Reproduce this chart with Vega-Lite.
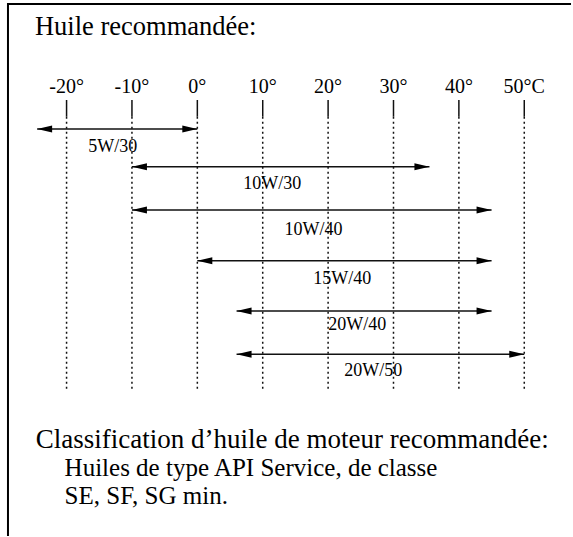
{
  "$schema": "https://vega.github.io/schema/vega-lite/v6.json",
  "width": 573,
  "height": 537,
  "autosize": {"type": "fit", "contains": "padding"},
  "padding": 0,
  "background": "white",
  "config": {"view": {"stroke": null}, "font": "Liberation Serif", "text": {"font": "Liberation Serif", "color": "#000"}},
  "datasets": {
    "frame": [
      {"t1": -28.96, "t2": 57.15, "v1": 4, "v2": 4},
      {"t1": -28.96, "t2": -28.96, "v1": 3, "v2": 536}
    ],
    "temps": [
      {"t": -20, "label": "-20°"},
      {"t": -10, "label": "-10°"},
      {"t": 0, "label": "0°"},
      {"t": 10, "label": "10°"},
      {"t": 20, "label": "20°"},
      {"t": 30, "label": "30°"},
      {"t": 40, "label": "40°"},
      {"t": 50, "label": "50°C"}
    ],
    "oils": [
      {"oil": "5W/30", "from": -24.5, "to": 0, "level": 129, "lx": -12.93, "ly": 151.7},
      {"oil": "10W/30", "from": -10, "to": 35.5, "level": 166.7, "lx": 11.44, "ly": 188.7},
      {"oil": "10W/40", "from": -10, "to": 45, "level": 210, "lx": 17.76, "ly": 235.3},
      {"oil": "15W/40", "from": 0, "to": 45, "level": 260.7, "lx": 22.18, "ly": 284.3},
      {"oil": "20W/40", "from": 6, "to": 45, "level": 311, "lx": 24.44, "ly": 330},
      {"oil": "20W/50", "from": 6, "to": 50, "level": 354.3, "lx": 26.92, "ly": 376}
    ],
    "heading": [
      {"t": -24.84, "v": 35, "text": "Huile recommandée:"}
    ],
    "subheading": [
      {"t": -24.7, "v": 448, "text": "Classification d’huile de moteur recommandée:"}
    ],
    "notes": [
      {"t": -20.3, "v": 476, "text": "Huiles de type API Service, de classe"},
      {"t": -20.3, "v": 504, "text": "SE, SF, SG min."}
    ]
  },
  "layer": [
    {
      "data": {"name": "frame"},
      "mark": {"type": "rule", "strokeWidth": 2, "color": "#000", "strokeCap": "butt"},
      "encoding": {
        "x": {"field": "t1", "type": "quantitative", "scale": {"domain": [-30.18, 57.3], "nice": false, "zero": false}, "axis": null},
        "x2": {"field": "t2"},
        "y": {"field": "v1", "type": "quantitative", "scale": {"domain": [0, 537], "reverse": true, "nice": false, "zero": false}, "axis": null},
        "y2": {"field": "v2"}
      }
    },
    {
      "data": {"name": "temps"},
      "mark": {"type": "rule", "strokeWidth": 1.5, "color": "#111", "strokeCap": "butt"},
      "encoding": {
        "x": {"field": "t", "type": "quantitative", "scale": {"domain": [-30.18, 57.3], "nice": false, "zero": false}, "axis": null},
        "y": {"datum": 100, "type": "quantitative", "scale": {"domain": [0, 537], "reverse": true, "nice": false, "zero": false}, "axis": null},
        "y2": {"datum": 116.7}
      }
    },
    {
      "data": {"name": "temps"},
      "mark": {"type": "rule", "strokeWidth": 1.5, "color": "#111", "strokeDash": [2, 3], "strokeCap": "butt"},
      "encoding": {
        "x": {"field": "t", "type": "quantitative", "scale": {"domain": [-30.18, 57.3], "nice": false, "zero": false}, "axis": null},
        "y": {"datum": 116.7, "type": "quantitative", "scale": {"domain": [0, 537], "reverse": true, "nice": false, "zero": false}, "axis": null},
        "y2": {"datum": 389}
      }
    },
    {
      "data": {"name": "temps"},
      "mark": {"type": "text", "fontSize": 20, "align": "center", "baseline": "alphabetic"},
      "encoding": {
        "x": {"field": "t", "type": "quantitative", "scale": {"domain": [-30.18, 57.3], "nice": false, "zero": false}, "axis": null},
        "y": {"datum": 93.3, "type": "quantitative", "scale": {"domain": [0, 537], "reverse": true, "nice": false, "zero": false}, "axis": null},
        "text": {"field": "label"}
      }
    },
    {
      "data": {"name": "oils"},
      "mark": {"type": "rule", "strokeWidth": 1.5, "color": "#111", "strokeCap": "butt"},
      "encoding": {
        "x": {"field": "from", "type": "quantitative", "scale": {"domain": [-30.18, 57.3], "nice": false, "zero": false}, "axis": null},
        "x2": {"field": "to"},
        "y": {"field": "level", "type": "quantitative", "scale": {"domain": [0, 537], "reverse": true, "nice": false, "zero": false}, "axis": null}
      }
    },
    {
      "data": {"name": "oils"},
      "mark": {"type": "point", "shape": "M0,0L1,-0.233L1,0.233Z", "size": 900, "filled": true, "opacity": 1, "color": "#000", "strokeWidth": 0},
      "encoding": {
        "x": {"field": "from", "type": "quantitative", "scale": {"domain": [-30.18, 57.3], "nice": false, "zero": false}, "axis": null},
        "y": {"field": "level", "type": "quantitative", "scale": {"domain": [0, 537], "reverse": true, "nice": false, "zero": false}, "axis": null}
      }
    },
    {
      "data": {"name": "oils"},
      "mark": {"type": "point", "shape": "M0,0L-1,-0.233L-1,0.233Z", "size": 900, "filled": true, "opacity": 1, "color": "#000", "strokeWidth": 0},
      "encoding": {
        "x": {"field": "to", "type": "quantitative", "scale": {"domain": [-30.18, 57.3], "nice": false, "zero": false}, "axis": null},
        "y": {"field": "level", "type": "quantitative", "scale": {"domain": [0, 537], "reverse": true, "nice": false, "zero": false}, "axis": null}
      }
    },
    {
      "data": {"name": "oils"},
      "mark": {"type": "text", "fontSize": 18, "align": "center", "baseline": "alphabetic"},
      "encoding": {
        "x": {"field": "lx", "type": "quantitative", "scale": {"domain": [-30.18, 57.3], "nice": false, "zero": false}, "axis": null},
        "y": {"field": "ly", "type": "quantitative", "scale": {"domain": [0, 537], "reverse": true, "nice": false, "zero": false}, "axis": null},
        "text": {"field": "oil"}
      }
    },
    {
      "data": {"name": "heading"},
      "mark": {"type": "text", "fontSize": 26.5, "align": "left", "baseline": "alphabetic"},
      "encoding": {
        "x": {"field": "t", "type": "quantitative", "scale": {"domain": [-30.18, 57.3], "nice": false, "zero": false}, "axis": null},
        "y": {"field": "v", "type": "quantitative", "scale": {"domain": [0, 537], "reverse": true, "nice": false, "zero": false}, "axis": null},
        "text": {"field": "text"}
      }
    },
    {
      "data": {"name": "subheading"},
      "mark": {"type": "text", "fontSize": 27, "align": "left", "baseline": "alphabetic"},
      "encoding": {
        "x": {"field": "t", "type": "quantitative", "scale": {"domain": [-30.18, 57.3], "nice": false, "zero": false}, "axis": null},
        "y": {"field": "v", "type": "quantitative", "scale": {"domain": [0, 537], "reverse": true, "nice": false, "zero": false}, "axis": null},
        "text": {"field": "text"}
      }
    },
    {
      "data": {"name": "notes"},
      "mark": {"type": "text", "fontSize": 25, "align": "left", "baseline": "alphabetic"},
      "encoding": {
        "x": {"field": "t", "type": "quantitative", "scale": {"domain": [-30.18, 57.3], "nice": false, "zero": false}, "axis": null},
        "y": {"field": "v", "type": "quantitative", "scale": {"domain": [0, 537], "reverse": true, "nice": false, "zero": false}, "axis": null},
        "text": {"field": "text"}
      }
    }
  ]
}
